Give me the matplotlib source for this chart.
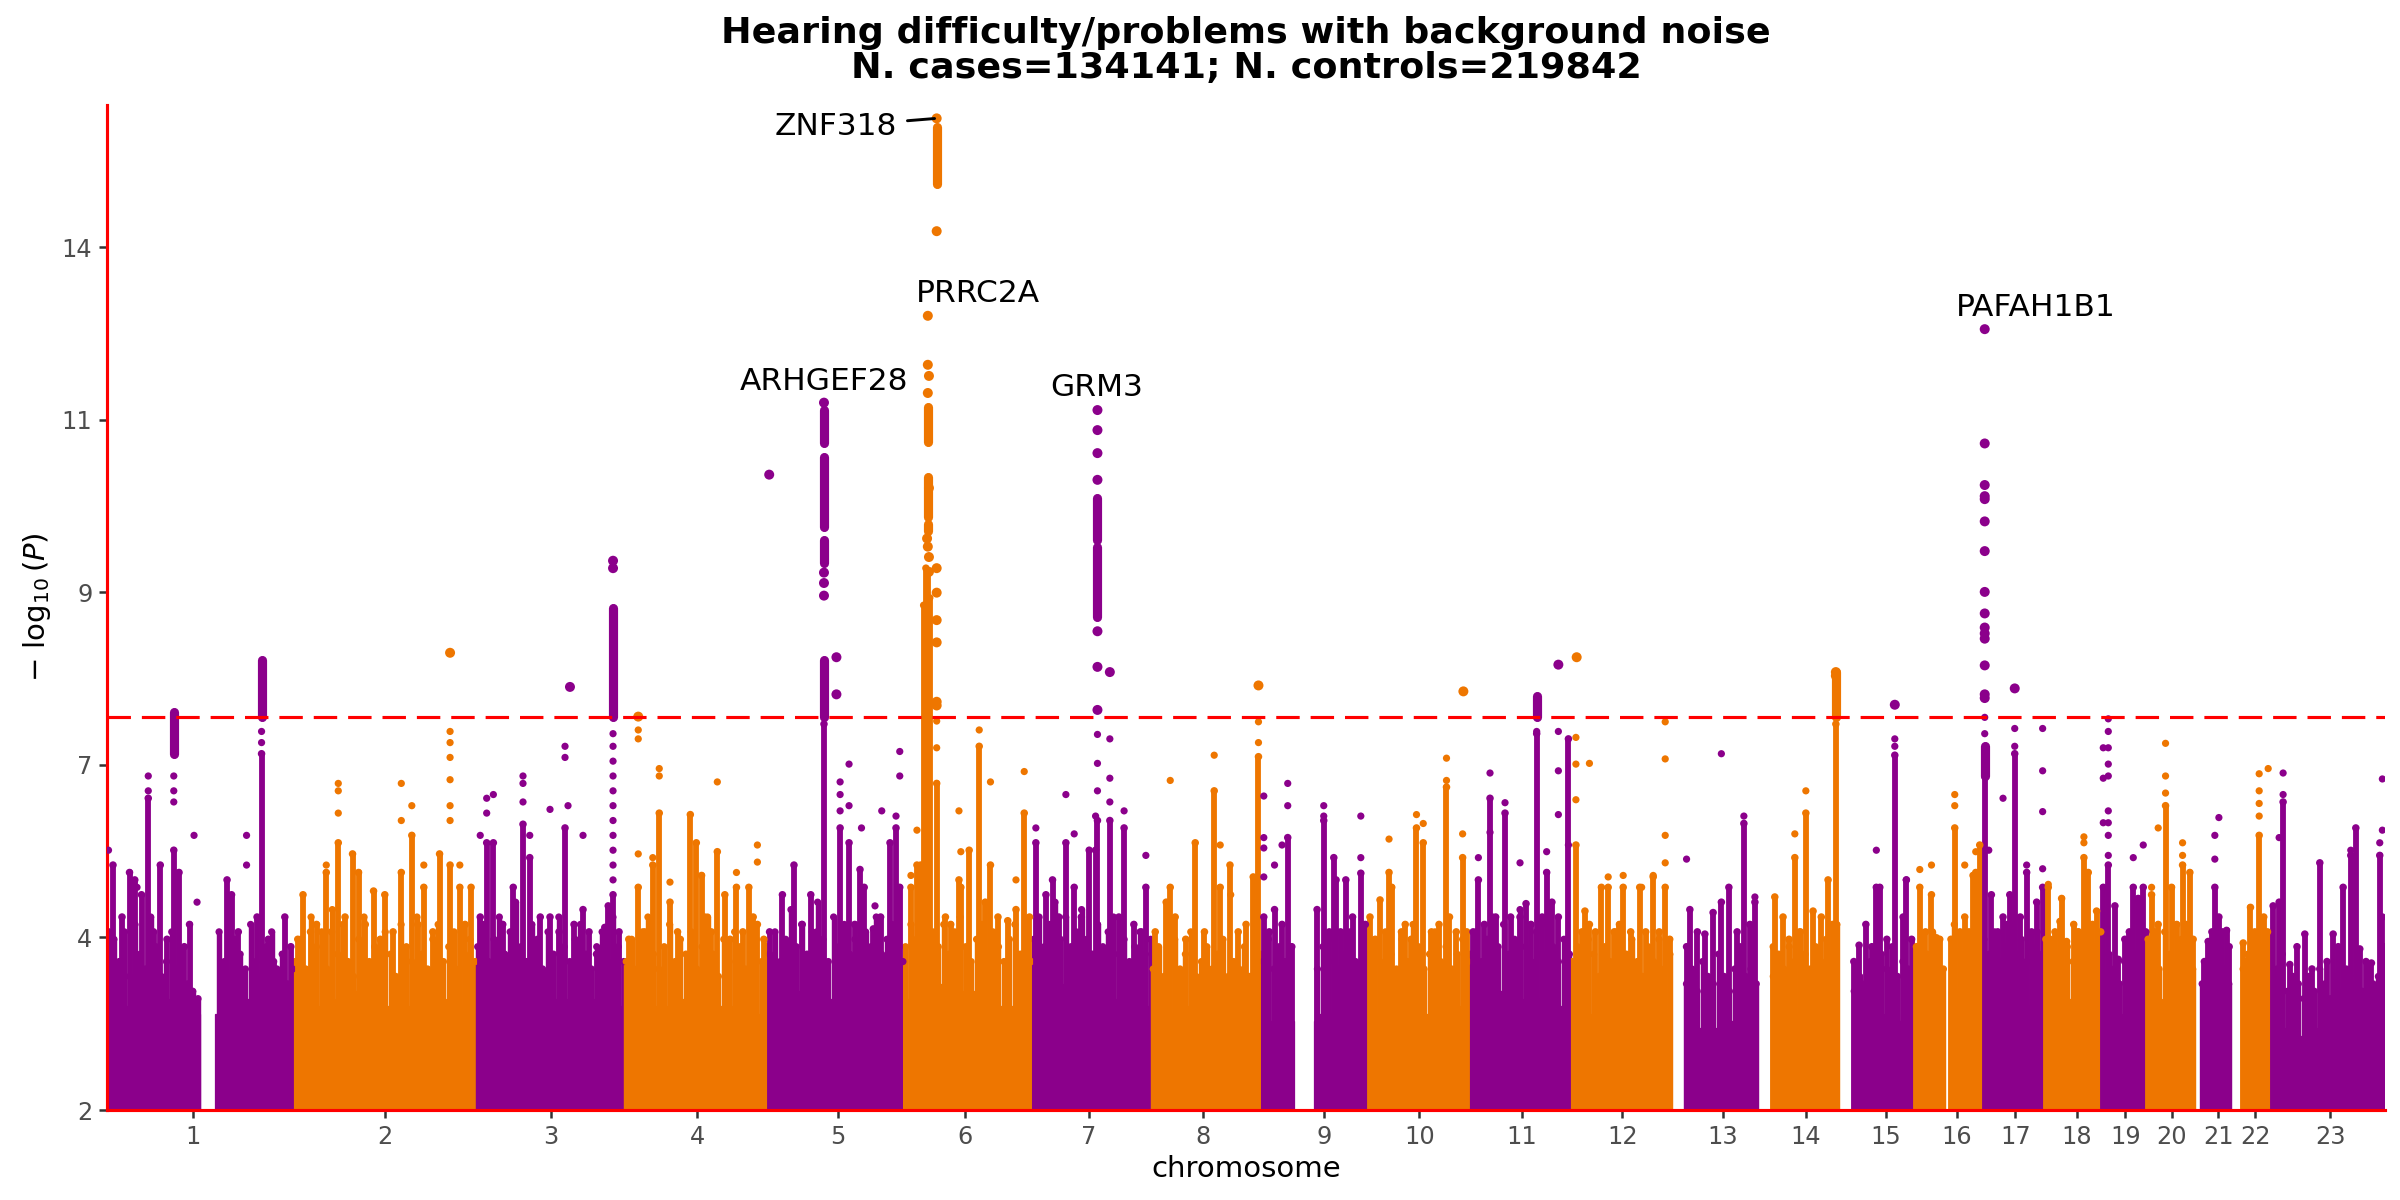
import numpy as np
import matplotlib
matplotlib.use("Agg")
import matplotlib.pyplot as plt

# ---------------- data ----------------
chrom_names = [str(i) for i in range(1, 24)]
chrom_len = [249.25, 243.2, 198.0, 191.15, 180.9, 171.1, 159.1, 146.4, 141.2, 135.5,
             135.0, 133.85, 115.2, 107.35, 102.5, 90.35, 81.2, 78.1, 59.1, 63.0,
             48.1, 51.3, 155.3]
chrom_first = [0.7, 0.1, 0.1, 0.1, 0.1, 0.2, 0.1, 0.2, 0.1, 0.1, 0.2, 0.2,
               19.0, 19.5, 20.0, 0.1, 0.1, 0.1, 0.3, 0.1, 9.5, 16.0, 2.7]
chrom_last = [249.0, 243.0, 197.8, 190.9, 180.7, 170.9, 158.9, 146.2, 141.0, 135.3,
              134.8, 133.7, 115.0, 107.2, 102.3, 90.2, 81.0, 77.9, 59.0, 62.9,
              48.0, 51.2, 155.1]
tick_mb = [114, 121, 99, 96, 92.7, 81.5, 75, 68.5, 83.3, 68.7, 69.7, 68.8, 68.8,
           64.5, 63.5, 55.6, 43.3, 44, 30.7, 33.4, 32.4, 33.5, 82]

gap_chr = [1, 9, 16]
gap_from = [124.0, 43.5, 38.5]
gap_to = [144.0, 70.0, 46.0]

# top of the solid part of the mass, in equal pieces along each chromosome
base_levels = [
    [3.4, 3.5, 3.3, 3.3, 3.5, 3.4],
    [3.4, 3.5, 3.6, 3.4, 3.5, 3.4],
    [3.6, 3.5, 3.5, 3.5, 3.4],
    [3.4, 3.4, 3.5, 3.4, 3.3],
    [3.5, 3.6, 3.5, 3.7, 3.5],
    [3.5, 3.7, 3.6, 3.4, 3.4],
    [3.6, 3.7, 3.6, 3.5, 3.4],
    [3.3, 3.4, 3.3, 3.4, 3.3],
    [3.2, 3.2, 3.3, 3.3],
    [3.3, 3.4, 3.3, 3.4],
    [3.4, 3.6, 3.5, 3.4],
    [3.3, 3.4, 3.4, 3.3],
    [3.1, 3.1, 3.2, 3.1],
    [3.2, 3.3, 3.5, 3.4],
    [3.0, 3.2, 3.3, 3.2],
    [3.3, 3.4, 3.6, 3.5],
    [3.5, 3.4, 3.3, 3.4],
    [3.3, 3.5, 3.4],
    [3.2, 3.3, 3.3],
    [3.4, 3.5, 3.3],
    [3.2, 3.3, 3.2],
    [3.4, 3.5, 3.3],
    [3.1, 3.0, 3.1, 3.0, 3.2],
]

# ragged top of the dense mass, evenly spaced along each chromosome
skyline = [
    [3.9, 4.3, 4.0, 4.4, 3.8, 4.5, 4.1, 3.9, 4.6, 4.2, 3.8, 4.0, 4.4, 3.9, 4.1, 3.7, 3.6, 3.5,
     3.8, 4.2, 3.9, 4.4, 4.0, 3.8, 4.3, 4.1, 3.9, 4.5, 4.0, 3.8, 4.2, 4.4, 3.9, 4.1, 3.7, 3.9],
    [4.0, 4.3, 3.9, 4.6, 4.2, 4.4, 3.9, 4.7, 4.1, 4.5, 4.0, 3.8, 4.3, 4.6, 4.0, 4.2, 3.9, 4.4,
     4.1, 3.8, 4.5, 4.2, 4.0, 4.6, 4.1, 3.9, 4.3, 4.5, 4.0, 4.2, 4.4, 3.9, 4.1, 4.3, 4.0],
    [4.2, 4.5, 4.0, 4.3, 4.6, 4.1, 4.4, 4.8, 4.2, 4.0, 4.5, 4.3, 3.9, 4.4, 4.1, 4.6, 4.2, 4.0,
     4.3, 4.5, 4.1, 3.9, 4.2, 4.4, 4.0, 4.6, 4.2, 4.0],
    [4.0, 4.3, 3.9, 4.4, 4.6, 4.1, 3.9, 4.2, 4.5, 4.0, 4.3, 4.1, 4.4, 3.9, 4.2, 4.6, 4.1, 3.8,
     4.3, 4.0, 4.4, 4.2, 3.9, 4.1, 4.3, 4.0, 4.2],
    [4.1, 4.4, 4.0, 4.3, 4.7, 4.2, 4.5, 4.1, 4.4, 4.8, 4.3, 4.0, 4.6, 4.2, 4.5, 4.1, 4.3, 4.0,
     4.4, 4.2, 4.6, 4.1, 4.3, 4.5, 4.2, 4.0],
    [4.2, 4.5, 4.3, 4.6, 4.8, 4.4, 4.2, 4.5, 4.1, 4.4, 4.6, 4.2, 4.0, 4.3, 4.5, 4.1, 4.4, 4.2,
     4.0, 4.3, 4.5, 4.1, 4.2, 4.0],
    [4.3, 4.6, 4.2, 4.5, 4.8, 4.3, 4.6, 4.2, 4.4, 4.7, 4.3, 4.1, 4.5, 4.2, 4.4, 4.6, 4.1, 4.3,
     4.0, 4.2, 4.4, 4.1, 4.3],
    [3.9, 4.2, 3.8, 4.0, 4.3, 3.9, 4.1, 4.4, 3.8, 4.0, 4.2, 3.9, 4.1, 4.3, 3.8, 4.0, 3.9, 4.2,
     3.8, 4.0, 4.1],
    [4.0, 4.3, 3.9, 4.2, 4.0, 3.8, 3.8, 3.8, 3.8, 3.8, 3.9, 4.2, 4.0, 4.3, 3.9, 4.1, 4.4, 4.0,
     3.8, 4.1],
    [3.9, 4.2, 4.0, 4.4, 4.1, 3.9, 4.3, 4.0, 4.5, 4.2, 3.9, 4.1, 4.4, 4.0, 4.2, 3.9, 4.1, 4.3, 4.0],
    [4.1, 4.4, 4.0, 4.3, 4.6, 4.2, 4.5, 4.1, 4.3, 4.7, 4.2, 4.0, 4.4, 4.1, 4.5, 4.2, 4.0, 4.3, 4.1],
    [4.0, 4.2, 3.9, 4.3, 4.1, 3.8, 4.2, 4.0, 4.4, 3.9, 4.1, 4.3, 4.0, 3.8, 4.2, 4.0, 4.3, 3.9, 4.1],
    [3.7, 3.9, 3.6, 4.0, 3.8, 3.7, 4.1, 3.8, 3.6, 3.9, 4.2, 3.8, 3.9, 3.7],
    [3.8, 4.1, 3.9, 4.2, 4.0, 4.4, 4.1, 3.9, 4.2, 4.0, 4.3, 4.1, 4.5],
    [3.6, 3.8, 3.7, 4.0, 3.8, 4.1, 3.9, 4.2, 3.8, 4.0, 3.9, 3.7],
    [4.0, 4.3, 4.1, 4.4, 4.0, 3.9, 4.2, 4.5, 4.1, 4.3, 4.0, 4.4, 4.2],
    [4.3, 4.1, 4.4, 4.0, 4.2, 4.5, 4.1, 4.3, 4.0, 4.2, 4.4, 4.1],
    [4.0, 4.3, 4.1, 3.9, 4.2, 4.0, 4.4, 4.1, 3.9, 4.2, 4.0],
    [3.8, 4.1, 3.9, 3.7, 4.0, 3.8, 4.1, 3.9, 4.0],
    [4.0, 4.2, 3.9, 4.4, 4.1, 4.0, 4.3, 4.1, 3.9],
    [3.7, 4.0, 3.8, 4.1, 3.9, 3.7],
    [3.9, 4.1, 4.3, 4.0, 4.2, 3.9],
    [3.7, 3.9, 4.1, 3.6, 3.8, 3.7, 3.5, 3.8, 3.6, 3.9, 3.7, 3.5, 3.8, 3.6, 3.9, 3.7, 3.8, 3.6,
     3.9, 3.7, 3.8, 3.9],
]

# dense columns rising from the bottom: (chromosome, position Mb, top -log10 P)
towers = [
    (1, 2, 4.4), (1, 8, 5.3), (1, 20, 4.6), (1, 30, 5.2), (1, 37, 5.1), (1, 46, 4.9), (1, 55, 6.2),
    (1, 62, 4.4), (1, 71, 5.3), (1, 80, 4.3), (1, 89, 5.5), (1, 96, 5.2), (1, 103, 4.2), (1, 110, 4.5),
    (1, 160, 5.1), (1, 166, 4.9), (1, 175, 4.4), (1, 200, 4.6), (1, 206, 6.8), (1, 215, 4.3),
    (1, 222, 4.0), (1, 237, 4.6), (1, 245, 4.2),
    (2, 5, 4.3), (2, 12, 4.9), (2, 22, 4.4), (2, 30, 4.5), (2, 43, 5.2), (2, 50, 4.4), (2, 59, 5.6),
    (2, 68, 4.6), (2, 78, 5.45), (2, 86, 5.2), (2, 95, 4.5), (2, 106, 4.95), (2, 115, 4.3),
    (2, 121, 4.9), (2, 132, 4.4), (2, 143, 5.2), (2, 157, 5.7), (2, 165, 4.5), (2, 173, 5.0),
    (2, 185, 4.4), (2, 194, 5.45), (2, 208, 5.3), (2, 221, 5.0), (2, 228, 4.5), (2, 236, 5.0),
    (3, 5, 4.6), (3, 13.6, 5.6), (3, 22.5, 5.6), (3, 35, 4.5), (3, 49, 5.0), (3, 62, 5.85),
    (3, 71, 5.4), (3, 85, 4.6), (3, 98, 4.6), (3, 110, 4.4), (3, 118, 5.8), (3, 130, 4.5),
    (3, 142, 4.7), (3, 150, 4.4), (3, 160, 4.1), (3, 171, 4.46), (3, 175.6, 4.75), (3, 182, 4.9),
    (3, 190, 4.4),
    (4, 5, 4.3), (4, 17.6, 5.0), (4, 26, 4.4), (4, 37, 5.3), (4, 45.6, 6.0), (4, 59.9, 4.8),
    (4, 70, 4.4), (4, 87, 5.98), (4, 95, 5.6), (4, 102, 5.16), (4, 106, 4.6), (4, 115, 4.4),
    (4, 123, 5.48), (4, 133, 4.9), (4, 140, 4.3), (4, 148.5, 5.0), (4, 157, 4.4), (4, 165, 5.0),
    (4, 170.8, 4.6), (4, 176.4, 4.5), (4, 185, 4.3),
    (5, 1.5, 4.4), (5, 18.6, 4.9), (5, 34, 5.3), (5, 45, 4.5), (5, 56.4, 4.9), (5, 65, 4.4),
    (5, 74, 7.2), (5, 95.5, 5.8), (5, 107.4, 5.6), (5, 115, 4.5), (5, 122, 5.24), (5, 127.6, 5.0),
    (5, 139.8, 4.44), (5, 149.5, 4.6), (5, 162, 5.6), (5, 170, 5.8), (5, 175, 5.0),
    (6, 9, 5.0), (6, 17, 5.3), (6, 22, 5.3), (6, 26, 8.8), (6, 29, 9.3), (6, 31.5, 9.25),
    (6, 34, 8.9), (6, 43.3, 6.4), (6, 55, 4.6), (6, 62, 4.5), (6, 73, 5.1), (6, 75.5, 5.0),
    (6, 86.6, 5.5), (6, 100, 6.9), (6, 108, 4.8), (6, 115, 5.3), (6, 125, 4.6), (6, 138, 4.55),
    (6, 149, 4.7), (6, 160, 6.0), (6, 167, 4.6),
    (7, 4.4, 5.6), (7, 17.8, 4.9), (7, 26.6, 5.1), (7, 35, 4.6), (7, 44.4, 5.6), (7, 55.5, 5.0),
    (7, 65, 4.6), (7, 75.5, 5.5), (7, 84, 5.5), (7, 86.5, 5.9), (7, 103, 5.9), (7, 115, 4.6),
    (7, 122, 5.8), (7, 135, 4.5), (7, 145, 4.4), (7, 151, 5.0),
    (8, 4.4, 4.4), (8, 19, 4.8), (8, 24.4, 5.0), (8, 31, 4.6), (8, 45, 4.3), (8, 57.7, 5.6),
    (8, 70, 4.4), (8, 83, 6.3), (8, 91, 5.0), (8, 104, 5.3), (8, 115, 4.4), (8, 125.4, 4.5),
    (8, 135, 5.14), (8, 142, 6.76),
    (9, 2.7, 4.6), (9, 10, 4.4), (9, 17, 4.7), (9, 27, 4.5), (9, 34.6, 5.67), (9, 40, 4.2),
    (9, 73.7, 4.7), (9, 82.6, 5.9), (9, 90, 4.4), (9, 96, 5.4), (9, 99, 5.1), (9, 105, 4.4),
    (9, 112, 5.1), (9, 121, 4.6), (9, 132, 5.19), (9, 138, 4.5),
    (10, 3, 4.6), (10, 10, 4.3), (10, 16.4, 4.83), (10, 28.4, 5.2), (10, 32, 5.0), (10, 45, 4.4),
    (10, 50, 4.5), (10, 58, 4.3), (10, 65, 5.8), (10, 74, 5.6), (10, 85, 4.4), (10, 95, 4.5),
    (10, 105, 6.35), (10, 109, 4.6), (10, 118, 4.4), (10, 126.5, 5.4), (10, 132, 4.4),
    (11, 5, 4.4), (11, 12, 5.1), (11, 20, 4.5), (11, 27.5, 6.2), (11, 35, 4.6), (11, 47.5, 6.0),
    (11, 55, 4.6), (11, 67.5, 4.6), (11, 75.5, 4.78), (11, 82, 4.5), (11, 89.7, 7.07),
    (11, 97, 4.6), (11, 103, 5.2), (11, 110, 4.8), (11, 118.6, 4.6), (11, 132, 7.0),
    (12, 7, 5.57), (12, 15, 4.4), (12, 19, 4.68), (12, 25, 4.5), (12, 33, 4.4), (12, 41, 5.0),
    (12, 50, 5.0), (12, 58, 4.4), (12, 65, 4.5), (12, 70, 5.0), (12, 80, 4.4), (12, 92, 5.0),
    (12, 100, 4.4), (12, 110, 5.14), (12, 118, 4.4), (12, 126, 5.0), (12, 132, 4.3),
    (13, 20.6, 4.2), (13, 25, 4.7), (13, 35, 4.4), (13, 45, 4.37), (13, 56, 4.66), (13, 67, 4.8),
    (13, 77, 5.0), (13, 88, 4.4), (13, 97, 5.86), (13, 105, 4.5), (13, 111.7, 4.8),
    (14, 21, 4.2), (14, 23, 4.87), (14, 34, 4.6), (14, 42, 4.3), (14, 49.7, 5.4), (14, 57, 4.4),
    (14, 64.4, 6.0), (14, 74, 4.68), (14, 85, 4.6), (14, 94, 5.1), (14, 100, 4.5), (14, 104.4, 7.2),
    (15, 21, 4.0), (15, 28, 4.22), (15, 37, 4.5), (15, 45, 4.2), (15, 51, 5.0), (15, 55.6, 5.0),
    (15, 65, 4.3), (15, 75.6, 6.78), (15, 86.7, 4.6), (15, 91, 5.1), (15, 98, 4.3),
    (16, 2, 4.2), (16, 6.4, 5.0), (16, 14, 4.4), (16, 22, 4.9), (16, 28.6, 4.32), (16, 33, 4.3),
    (16, 48, 4.3), (16, 53, 5.8), (16, 60, 4.4), (16, 66.3, 4.6), (16, 72, 4.4), (16, 77.4, 5.16),
    (16, 81, 5.2), (16, 86.3, 5.57),
    (17, 2.6, 6.5), (17, 11.5, 4.9), (17, 20, 4.4), (17, 27, 4.6), (17, 33, 4.5), (17, 36, 4.9),
    (17, 42.6, 6.8), (17, 50, 4.6), (17, 58.5, 5.2), (17, 65, 4.4), (17, 71.8, 4.8), (17, 79.8, 5.0),
    (18, 3, 4.3), (18, 6.1, 5.0), (18, 15, 4.4), (18, 21.7, 4.54), (18, 23.9, 4.85), (18, 30.5, 4.27),
    (18, 40, 4.5), (18, 46, 4.4), (18, 53.6, 5.4), (18, 59.4, 5.2), (18, 65, 4.5), (18, 70.5, 4.68),
    (18, 76, 4.4),
    (19, 1.3, 5.0), (19, 8, 5.3), (19, 16.8, 4.75), (19, 21.3, 4.03), (19, 30, 4.3), (19, 36, 4.4),
    (19, 41.3, 5.0), (19, 47.9, 4.85), (19, 54.6, 5.0), (19, 58, 4.4),
    (20, 2, 4.3), (20, 6.6, 4.9), (20, 10, 4.4), (20, 15.4, 4.5), (20, 25.2, 6.1), (20, 33.2, 5.0),
    (20, 40, 4.5), (20, 47.9, 5.3), (20, 52, 4.5), (20, 57.6, 5.2), (20, 62, 4.3),
    (21, 14, 4.0), (21, 19, 4.27), (21, 24, 4.4), (21, 27.9, 5.0), (21, 33.3, 4.6), (21, 38, 4.4),
    (21, 43.5, 4.42), (21, 47, 4.2),
    (22, 17.6, 4.25), (22, 22, 4.0), (22, 27.3, 4.73), (22, 33, 4.4), (22, 38.9, 5.7), (22, 45, 4.6),
    (22, 50, 4.4),
    (23, 6.2, 4.75), (23, 14.2, 4.8), (23, 19.5, 6.15), (23, 28.4, 3.96), (23, 38, 4.2),
    (23, 48.4, 4.37), (23, 58, 3.9), (23, 68.4, 5.33), (23, 78, 4.0), (23, 86.2, 4.37), (23, 93, 4.2),
    (23, 99.5, 5.0), (23, 109.7, 5.43), (23, 116.4, 5.8), (23, 121.7, 4.17), (23, 130, 4.0),
    (23, 137.2, 3.98), (23, 148.3, 5.43), (23, 151.8, 4.6), (23, 154, 4.2),
]

# dense runs of SNPs higher up a column: (chromosome, position Mb, low, high)
segments = [
    (1, 89, 6.8, 7.36), (1, 206, 7.3, 8.06),
    (3, 182, 7.3, 8.76),
    (5, 74, 7.3, 8.06), (5, 74, 9.37, 9.68), (5, 74, 9.86, 10.8), (5, 74, 10.99, 11.43),
    (6, 31.5, 9.8, 9.9), (6, 31.5, 9.99, 10.53), (6, 31.5, 11.0, 11.47), (6, 43.3, 14.47, 15.25),
    (7, 86.5, 8.64, 9.59), (7, 86.5, 9.68, 10.25),
    (11, 89.7, 7.3, 7.58),
    (14, 104.4, 7.3, 7.9),
    (17, 2.6, 6.5, 6.9),
]

# individual SNPs: (chromosome, position Mb, -log10 P)
dots = [
    (1, 2, 5.5), (1, 40, 5.0), (1, 55, 6.5), (1, 55, 6.3), (1, 89, 6.5), (1, 89, 6.3), (1, 89, 6.15),
    (1, 116, 5.7), (1, 120, 4.8), (1, 186, 5.7), (1, 186, 5.3), (1, 206, 7.1), (1, 206, 6.95),
    (2, 43, 5.3), (2, 59, 6.4), (2, 59, 6.3), (2, 59, 6.0), (2, 143, 6.4), (2, 143, 5.9), (2, 157, 6.1),
    (2, 173, 5.3), (2, 208, 8.16), (2, 208, 7.1), (2, 208, 6.95), (2, 208, 6.75),
    (2, 208, 6.45), (2, 208, 6.1), (2, 208, 5.9), (2, 221, 5.3),
    (3, 5, 5.7), (3, 13.6, 6.2), (3, 13.6, 6.0), (3, 22.5, 6.25), (3, 62, 6.5), (3, 62, 6.4),
    (3, 62, 6.15), (3, 71, 5.7), (3, 98, 6.05), (3, 118, 6.9), (3, 118, 6.75), (3, 122, 6.1),
    (3, 124.6, 7.7), (3, 142, 5.7), (3, 182, 9.4), (3, 182, 9.3), (3, 182, 7.07), (3, 182, 6.9),
    (3, 182, 6.7), (3, 182, 6.5), (3, 182, 6.3), (3, 182, 6.1), (3, 182, 5.9), (3, 182, 5.7),
    (3, 182, 5.5), (3, 182, 5.3), (3, 182, 5.1),
    (4, 17.6, 7.3), (4, 17.6, 7.12), (4, 17.6, 7.0), (4, 17.6, 5.45), (4, 37, 5.4), (4, 45.6, 6.6),
    (4, 45.6, 6.5), (4, 59.9, 5.07), (4, 123, 6.42), (4, 148.5, 5.2), (4, 176.4, 5.57), (4, 176.4, 5.34),
    (5, 1.0, 10.56), (5, 74, 11.53), (5, 74, 9.24), (5, 74, 9.1), (5, 74, 8.93), (5, 90.6, 8.1),
    (5, 90.6, 7.6), (5, 95.5, 6.42), (5, 95.5, 6.25), (5, 95.5, 6.03), (5, 107.4, 6.66), (5, 107.4, 6.1),
    (5, 124, 5.8), (5, 142, 4.75), (5, 151, 6.03), (5, 170, 5.96), (5, 175, 6.83), (5, 175, 6.5),
    (6, 9, 5.16), (6, 17, 5.77), (6, 31.5, 12.7), (6, 31.5, 12.04), (6, 33, 11.89), (6, 31.5, 11.66),
    (6, 33, 10.38), (6, 30.5, 9.7), (6, 31.5, 9.59), (6, 33, 9.45), (6, 33, 9.25),
    (6, 43.3, 15.36), (6, 43.3, 13.84), (6, 43.3, 9.3), (6, 43.3, 8.97), (6, 43.3, 8.6), (6, 43.3, 8.3),
    (6, 43.3, 7.5), (6, 43.3, 7.45), (6, 43.3, 7.24), (6, 43.3, 6.88), (6, 73, 6.03), (6, 75.5, 5.48),
    (6, 100, 7.12), (6, 115, 6.42), (6, 149, 5.1), (6, 160, 6.56),
    (7, 4.4, 5.8), (7, 44.4, 6.25), (7, 55.5, 5.72), (7, 84, 5.96), (7, 86.5, 11.43), (7, 86.5, 11.16),
    (7, 86.5, 10.85), (7, 86.5, 10.49), (7, 86.5, 8.45), (7, 86.5, 7.97), (7, 86.5, 7.39),
    (7, 86.5, 7.06), (7, 86.5, 6.67), (7, 86.5, 6.3), (7, 103, 7.9), (7, 103, 7.0), (7, 103, 6.47),
    (7, 103, 6.15), (7, 122, 6.03), (7, 151, 5.43),
    (8, 24.4, 6.44), (8, 83, 6.78), (8, 91, 5.57), (8, 105, 4.9), (8, 142, 7.72), (8, 142, 7.23),
    (8, 142, 6.95),
    (9, 2.7, 6.23), (9, 2.7, 5.67), (9, 2.7, 5.53), (9, 2.7, 5.14), (9, 17, 5.3), (9, 27, 5.57),
    (9, 34.6, 6.4), (9, 34.6, 6.1), (9, 82.6, 6.1), (9, 82.6, 5.96), (9, 132, 5.96), (9, 132, 5.4),
    (10, 28.4, 5.65), (10, 65, 5.98), (10, 74, 5.86), (10, 105, 6.74), (10, 105, 6.44),
    (10, 126.5, 5.72), (10, 127.5, 7.64),
    (11, 12, 5.4), (11, 27.5, 6.54), (11, 27.5, 5.74), (11, 47.5, 6.14), (11, 67.5, 5.33),
    (11, 89.7, 7.1), (11, 103, 5.48), (11, 118.6, 8.0), (11, 118.6, 7.1), (11, 118.6, 6.57),
    (11, 118.6, 5.98), (11, 132, 5.57),
    (12, 7, 7.02), (12, 7, 6.66), (12, 7, 6.18), (12, 8, 8.1), (12, 25, 6.67), (12, 50, 5.14),
    (12, 70, 5.16), (12, 94.6, 5.0), (12, 110, 5.16), (12, 126, 7.23), (12, 126, 6.73),
    (12, 126, 5.7), (12, 126, 5.33),
    (13, 20.6, 5.38), (13, 67, 6.8), (13, 97, 5.96), (13, 111.7, 4.87),
    (14, 49.7, 5.72), (14, 64.4, 6.3), (14, 104.4, 7.9), (14, 104.4, 7.85),
    (15, 51, 5.5), (15, 75.6, 7.46), (15, 75.6, 7.0), (15, 75.6, 6.9), (15, 91, 5.1),
    (16, 6.4, 5.24), (16, 22, 5.3), (16, 53, 6.25), (16, 53, 6.1), (16, 66.3, 5.3), (16, 81, 5.48),
    (17, 2.6, 7.07), (17, 2.6, 7.29), (17, 2.6, 7.55), (17, 2.6, 7.6), (17, 2.6, 7.99),
    (17, 2.6, 8.35), (17, 2.6, 8.42), (17, 2.6, 8.5), (17, 2.6, 8.69), (17, 2.6, 8.98),
    (17, 2.6, 9.53), (17, 2.6, 9.93), (17, 2.6, 10.23), (17, 2.6, 10.27), (17, 2.6, 10.42),
    (17, 2.6, 10.98), (17, 2.6, 12.52), (17, 8, 5.5), (17, 27, 6.2), (17, 42.6, 7.68),
    (17, 42.6, 7.14), (17, 42.6, 6.9), (17, 58.5, 5.3), (17, 79.8, 7.14), (17, 79.8, 6.57),
    (17, 79.8, 6.02), (17, 79.8, 5.25),
    (18, 6.1, 5.04), (18, 53.6, 5.68), (18, 53.6, 5.6),
    (19, 8, 7.27), (19, 8, 7.1), (19, 8, 6.88), (19, 8, 6.66), (19, 8, 6.5), (19, 8, 6.03),
    (19, 8, 5.87), (19, 8, 5.7), (19, 8, 5.43), (19, 1.3, 6.88), (19, 1.3, 6.47), (19, 1.3, 5.87),
    (19, 41.3, 5.4), (19, 54.6, 5.57),
    (20, 6.6, 5.0), (20, 15.4, 5.8), (20, 25.2, 6.94), (20, 25.2, 6.5), (20, 25.2, 6.27),
    (20, 47.9, 5.6), (20, 47.9, 5.43),
    (21, 27.9, 5.7), (21, 27.9, 5.38), (21, 33.3, 5.94),
    (22, 38.9, 6.53), (22, 38.9, 6.3), (22, 38.9, 6.13), (22, 38.9, 5.96), (22, 50.9, 6.6),
    (23, 14.2, 5.67), (23, 19.5, 6.54), (23, 19.5, 6.25), (23, 109.7, 5.5), (23, 148.3, 5.6),
    (23, 151.8, 6.46), (23, 151.8, 5.77),
]

# gene labels
label_text = ["ZNF318", "PRRC2A", "ARHGEF28", "GRM3", "PAFAH1B1"]
label_x = [1053, 1161, 955, 1319, 2571]          # cumulative Mb
label_y = [15.25, 13.0, 11.82, 11.73, 12.81]
label_ha = ["right", "center", "center", "center", "center"]
znf_target = (6, 43.3, 15.36)

ytick_values = [2, 4.325, 6.65, 8.975, 11.3, 13.625]
ytick_labels = ["2", "4", "7", "9", "11", "14"]
threshold = 7.30
title = "Hearing difficulty/problems with background noise\nN. cases=134141; N. controls=219842"

# ---------------- plotting ----------------
PURPLE = "#8B008B"
ORANGE = "#EE7600"
offsets = np.concatenate([[0.0], np.cumsum(chrom_len)[:-1]])
total = float(np.sum(chrom_len))


def col(c):
    return PURPLE if c % 2 == 1 else ORANGE


def cum(c, p):
    return offsets[c - 1] + p


def in_gap(c, p):
    for g, gf, gt in zip(gap_chr, gap_from, gap_to):
        if g == c and gf <= p <= gt:
            return True
    return False


fig = plt.figure(figsize=(16, 8), dpi=150)
ax = fig.add_axes([107 / 2400, 90 / 1200, (2385 - 107) / 2400, (1110 - 105) / 1200])

# solid base of the dense mass
for i in range(23):
    c = i + 1
    lv = base_levels[i]
    edges = np.linspace(chrom_first[i], chrom_last[i], len(lv) + 1)
    for k in range(len(lv)):
        pieces = [(edges[k], edges[k + 1])]
        for g, gf, gt in zip(gap_chr, gap_from, gap_to):
            if g != c:
                continue
            new = []
            for a, b in pieces:
                if gt <= a or gf >= b:
                    new.append((a, b))
                else:
                    if gf > a:
                        new.append((a, gf))
                    if gt < b:
                        new.append((gt, b))
            pieces = new
        for a, b in pieces:
            ax.bar(cum(c, a), lv[k] - 2, width=b - a, bottom=2, align="edge",
                   color=col(c), edgecolor=col(c), linewidth=0.6, zorder=1)

# ragged skyline of the dense mass
sk_x, sk_top, sk_col = [], [], []
for i in range(23):
    c = i + 1
    vals = skyline[i]
    pos = np.linspace(chrom_first[i] + 1.5, chrom_last[i] - 1.5, len(vals))
    for p, v in zip(pos, vals):
        if in_gap(c, p):
            continue
        sk_x.append(cum(c, p))
        sk_top.append(v)
        sk_col.append(col(c))
lc0 = ax.vlines(sk_x, 2, sk_top, colors=sk_col, linewidth=2.6, zorder=1.5)
lc0.set_capstyle("round")
ax.scatter(sk_x, sk_top, s=12, c=sk_col, edgecolors="none", zorder=1.6)

# towers
t_chr = np.array([t[0] for t in towers])
t_x = np.array([cum(t[0], t[1]) for t in towers])
t_top = np.array([t[2] for t in towers])
t_col = [col(c) for c in t_chr]
lc = ax.vlines(t_x, 2, t_top, colors=t_col, linewidth=2.8, zorder=2)
lc.set_capstyle("round")
ax.scatter(t_x, t_top, s=13, c=t_col, edgecolors="none", zorder=2.1)

s_chr = np.array([s[0] for s in segments])
s_x = np.array([cum(s[0], s[1]) for s in segments])
s_lo = np.array([s[2] for s in segments])
s_hi = np.array([s[3] for s in segments])
lc2 = ax.vlines(s_x, s_lo, s_hi, colors=[col(c) for c in s_chr], linewidth=4.4, zorder=2)
lc2.set_capstyle("round")

d_chr = np.array([d[0] for d in dots])
d_x = np.array([cum(d[0], d[1]) for d in dots])
d_y = np.array([d[2] for d in dots])
sizes = np.where(d_y >= threshold, 23, 12)
ax.scatter(d_x, d_y, s=sizes, c=[col(c) for c in d_chr], edgecolors="none", zorder=3)

ax.axhline(threshold, color="red", lw=1.5, ls=(0, (7.5, 3.5)), zorder=4)

# labels
for t, x, y, ha in zip(label_text, label_x, label_y, label_ha):
    if t == "ZNF318":
        ax.annotate(t, xy=(cum(znf_target[0], znf_target[1]), znf_target[2]), xytext=(x, y),
                    ha=ha, va="center", fontsize=15, color="black", zorder=5,
                    arrowprops=dict(arrowstyle="-", color="black", lw=1.4, shrinkA=3, shrinkB=1))
    else:
        ax.text(x, y, t, ha=ha, va="center", fontsize=15, color="black", zorder=5)

ax.set_xlim(0, total)
ax.set_ylim(2, 15.54)
ax.set_xticks([cum(i + 1, tick_mb[i]) for i in range(23)])
ax.set_xticklabels(chrom_names)
ax.set_yticks(ytick_values)
ax.set_yticklabels(ytick_labels)
ax.tick_params(axis="both", colors="#333333", labelcolor="#4D4D4D", labelsize=11.5,
               length=4, width=1.2, pad=3)
for side in ["top", "right"]:
    ax.spines[side].set_visible(False)
for side in ["left", "bottom"]:
    ax.spines[side].set_color("red")
    ax.spines[side].set_linewidth(1.5)
ax.set_xlabel("chromosome", fontsize=14, labelpad=3)
ax.set_ylabel(r"$-\ \log_{10}(P)$", fontsize=14, labelpad=4)
fig.suptitle(title, fontsize=17.5, fontweight="bold", y=0.987, x=(107 + 2385) / 2 / 2400,
             linespacing=1.05)

fig.savefig("out.png", dpi=150, facecolor="white")
